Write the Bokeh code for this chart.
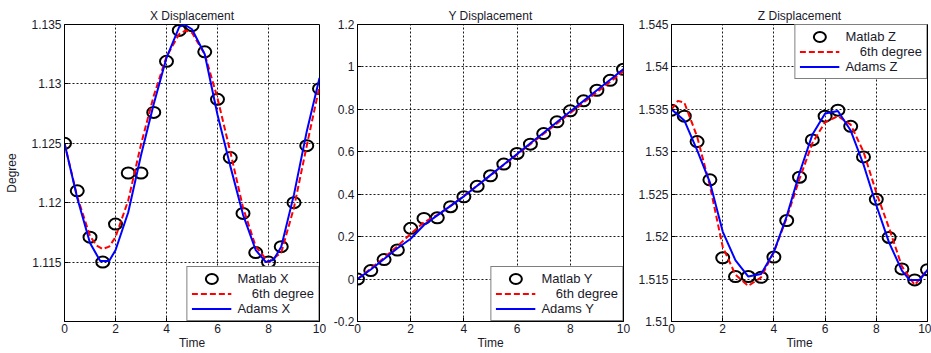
from bokeh.plotting import figure
from bokeh.layouts import row
from bokeh.models import FixedTicker, PrintfTickFormatter, Legend, LegendItem, Range1d
from bokeh.embed import file_html
from bokeh.resources import INLINE

# ---------------- data ----------------
t_pts = [0, 0.5, 1, 1.5, 2, 2.5, 3, 3.5, 4, 4.5, 5, 5.5, 6, 6.5, 7, 7.5, 8, 8.5, 9, 9.5, 10]

x_matlab = [1.1250, 1.1210, 1.1171, 1.1150, 1.1182, 1.1225, 1.1225, 1.1276, 1.1319, 1.1345, 1.1349,
            1.1327, 1.1287, 1.1238, 1.1191, 1.1158, 1.1150, 1.1163, 1.1200, 1.1248, 1.1296]
t_xpoly = [0, 0.5, 1, 1.25, 1.5, 1.75, 2, 2.5, 3, 3.5, 4, 4.5, 4.75, 5, 5.5, 6, 6.5, 7, 7.5, 8,
           8.5, 9, 9.5, 10]
x_poly = [1.1250, 1.1205, 1.1172, 1.1164, 1.1161, 1.1163, 1.1171, 1.1202, 1.1249, 1.1290, 1.1323,
          1.1342, 1.1345, 1.1343, 1.1325, 1.1288, 1.1243, 1.1196, 1.1163, 1.1150, 1.1158, 1.1196,
          1.1248, 1.1298]
t_xadams = [0, 0.5, 1, 1.4, 1.75, 2, 2.5, 3, 3.5, 4, 4.5, 4.7, 5, 5.5, 6, 6.5, 7, 7.5, 7.9, 8.2,
            8.5, 9, 9.5, 10]
x_adams = [1.1250, 1.1204, 1.1166, 1.1151, 1.1151, 1.1160, 1.1192, 1.1240, 1.1283, 1.1322, 1.1348,
           1.1350, 1.1346, 1.1325, 1.1274, 1.1231, 1.1190, 1.1160, 1.1150, 1.1152, 1.1163, 1.1207,
           1.1260, 1.1305]

y_matlab = [0.000, 0.040, 0.092, 0.137, 0.239, 0.286, 0.289, 0.341, 0.388, 0.437, 0.487,
            0.542, 0.592, 0.636, 0.686, 0.741, 0.793, 0.840, 0.890, 0.937, 0.989]
y_poly = [0.000, 0.050, 0.100, 0.155, 0.213, 0.268, 0.302, 0.345, 0.392, 0.440, 0.489,
          0.538, 0.587, 0.636, 0.685, 0.734, 0.783, 0.832, 0.881, 0.930, 0.980]
y_adams = [0.000, 0.045, 0.095, 0.145, 0.190, 0.255, 0.300, 0.345, 0.390, 0.440, 0.490,
           0.540, 0.590, 0.640, 0.690, 0.740, 0.790, 0.840, 0.890, 0.940, 0.990]

z_matlab = [1.5349, 1.5342, 1.5312, 1.5267, 1.5175, 1.5153, 1.5153, 1.5152, 1.5176, 1.5219, 1.5270,
            1.5314, 1.5342, 1.5349, 1.5330, 1.5294, 1.5244, 1.5199, 1.5162, 1.5149, 1.5161]
t_zpoly = [0, 0.25, 0.5, 1, 1.5, 2, 2.5, 3, 3.5, 4, 4.5, 5, 5.5, 6, 6.5, 7, 7.5, 8, 8.5, 9, 9.5, 10]
z_poly = [1.5350, 1.5360, 1.5358, 1.5318, 1.5260, 1.5188, 1.5155, 1.5142, 1.5152, 1.5182, 1.5222,
          1.5268, 1.5310, 1.5335, 1.5342, 1.5332, 1.5300, 1.5252, 1.5210, 1.5165, 1.5143, 1.5161]
t_zadams = [0, 0.5, 1, 1.5, 2, 2.5, 3, 3.5, 4, 4.5, 5, 5.5, 6, 6.5, 7, 7.5, 8, 8.5, 9, 9.3, 9.7, 10]
z_adams = [1.5350, 1.5337, 1.5302, 1.5264, 1.5206, 1.5172, 1.5153, 1.5156, 1.5182, 1.5224, 1.5275,
           1.5320, 1.5345, 1.5348, 1.5325, 1.5285, 1.5237, 1.5193, 1.5160, 1.5149, 1.5149, 1.5161]

x_ticks = [0, 2, 4, 6, 8, 10]
xdisp_ticks = [1.115, 1.12, 1.125, 1.13, 1.135]
ydisp_ticks = [-0.2, 0, 0.2, 0.4, 0.6, 0.8, 1, 1.2]
zdisp_ticks = [1.51, 1.515, 1.52, 1.525, 1.53, 1.535, 1.54, 1.545]

FONT = "Liberation Sans"
TXT = "#1a1a2a"
NB = "\u00a0"


def panel(title, width, left, right, yrange, yticks, ylabel,
          t_m, v_m, t_p, v_p, t_a, v_a, names, loc):
    p = figure(width=width, height=353, output_backend="svg", toolbar_location=None,
               x_range=Range1d(0, 10), y_range=Range1d(*yrange),
               min_border_left=left, min_border_right=right,
               min_border_top=24, min_border_bottom=32, title=title)
    p.background_fill_color = "white"
    p.border_fill_color = "white"
    p.outline_line_color = "black"
    p.outline_line_width = 1
    p.outline_line_alpha = 1

    p.title.align = "center"
    p.title.text_font = FONT
    p.title.text_font_size = "12px"
    p.title.text_font_style = "normal"
    p.title.text_color = TXT
    p.title.standoff = 4

    p.xaxis.ticker = FixedTicker(ticks=x_ticks)
    p.yaxis.ticker = FixedTicker(ticks=yticks)
    p.yaxis.formatter = PrintfTickFormatter(format="%g")
    p.xaxis.formatter = PrintfTickFormatter(format="%g")
    for ax in (p.xaxis, p.yaxis):
        ax.major_tick_in = 4
        ax.major_tick_out = 0
        ax.minor_tick_in = 0
        ax.minor_tick_out = 0
        ax.major_tick_line_color = "black"
        ax.axis_line_color = "black"
        ax.major_label_text_font = FONT
        ax.major_label_text_font_size = "12px"
        ax.major_label_text_color = TXT
        ax.axis_label_text_font = FONT
        ax.axis_label_text_font_size = "12px"
        ax.axis_label_text_font_style = "normal"
        ax.axis_label_text_color = TXT
        ax.major_label_standoff = 3
    p.xaxis.axis_label = "Time"
    p.xaxis.axis_label_standoff = 0
    p.xaxis.major_label_standoff = 2
    if ylabel:
        p.yaxis.axis_label = ylabel
        p.yaxis.axis_label_standoff = 9

    p.xgrid.ticker = FixedTicker(ticks=x_ticks)
    p.ygrid.ticker = FixedTicker(ticks=yticks)
    for g in (p.xgrid, p.ygrid):
        g.grid_line_color = "black"
        g.grid_line_dash = "2 2"
        g.grid_line_width = 1
        g.grid_line_alpha = 0.9

    r_m = p.ellipse(t_m, v_m, width=13, height=11, width_units="screen", height_units="screen",
                    line_color="black", line_width=2, fill_color=None)
    r_p = p.line(t_p, v_p, line_color="red", line_width=2, line_dash="6 3")
    r_a = p.line(t_a, v_a, line_color="blue", line_width=2)

    leg = Legend(items=[LegendItem(label=names[0], renderers=[r_m]),
                        LegendItem(label=NB * 4 + "6th degree", renderers=[r_p]),
                        LegendItem(label=names[1], renderers=[r_a])],
                 location=loc)
    leg.margin = 0
    leg.padding = 4
    leg.spacing = 0
    leg.glyph_width = 40
    leg.glyph_height = 15
    leg.label_height = 15
    leg.label_standoff = 6
    leg.label_text_font = FONT
    leg.label_text_font_size = "13px"
    leg.label_text_color = TXT
    leg.border_line_color = "black"
    leg.border_line_width = 1
    leg.background_fill_color = "white"
    leg.background_fill_alpha = 1
    p.add_layout(leg)
    return p


p1 = panel("X Displacement", 326, 64, 7, (1.11, 1.135), xdisp_ticks, "Degree",
           t_pts, x_matlab, t_xpoly, x_poly, t_xadams, x_adams, ("Matlab X", "Adams X"), "bottom_right")
p2 = panel("Y Displacement", 306, 31, 9, (-0.2, 1.2), ydisp_ticks, None,
           t_pts, y_matlab, t_pts, y_poly, t_pts, y_adams, ("Matlab Y", "Adams Y"), "bottom_right")
p3 = panel("Z Displacement", 299, 39, 4, (1.51, 1.545), zdisp_ticks, None,
           t_pts, z_matlab, t_zpoly, z_poly, t_zadams, z_adams, ("Matlab Z", "Adams Z"), "top_right")

layout = row(p1, p2, p3, spacing=0)
layout.sizing_mode = "fixed"

open("out.html", "w").write(file_html(layout, INLINE))
